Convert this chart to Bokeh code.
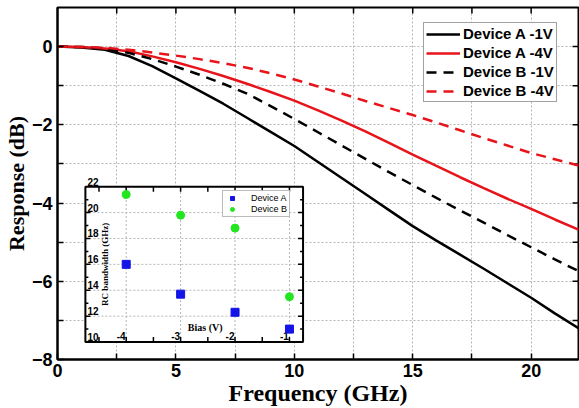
import numpy as np
from bokeh.plotting import figure
from bokeh.models import Range1d, FixedTicker, Legend, LegendItem, ColumnDataSource
from bokeh.core.properties import value
from bokeh.embed import file_html
from bokeh.resources import INLINE

# ---- frequency response (dB) ----
freq = list(range(0, 23))
a_1v = [0, -0.02, -0.08, -0.24, -0.50, -0.81, -1.13, -1.46, -1.82, -2.18, -2.54, -2.95,
        -3.36, -3.77, -4.18, -4.59, -4.96, -5.32, -5.68, -6.05, -6.42, -6.82, -7.20]
a_4v = [0, -0.01, -0.05, -0.12, -0.25, -0.40, -0.57, -0.75, -0.95, -1.16, -1.38, -1.63,
        -1.89, -2.17, -2.46, -2.76, -3.05, -3.34, -3.62, -3.89, -4.15, -4.42, -4.68]
b_1v = [0, -0.01, -0.05, -0.16, -0.32, -0.51, -0.72, -0.95, -1.20, -1.52, -1.85, -2.19,
        -2.53, -2.87, -3.21, -3.54, -3.87, -4.19, -4.50, -4.82, -5.13, -5.44, -5.74]
b_4v = [0, -0.01, -0.03, -0.08, -0.15, -0.23, -0.32, -0.42, -0.54, -0.68, -0.84, -1.02,
        -1.20, -1.39, -1.57, -1.75, -1.94, -2.14, -2.34, -2.53, -2.72, -2.88, -3.04]

series_names = ["Device A -1V", "Device A -4V", "Device B -1V", "Device B -4V"]

# ---- inset: RC bandwidth vs bias ----
bias = [-4, -3, -2, -1]
bw_a = [16.0, 13.7, 12.3, 11.0]
bw_b = [21.4, 19.8, 18.8, 13.5]
inset_names = ["Device A", "Device B"]

x_ticks = [0, 5, 10, 15, 20]
y_ticks = [0, -2, -4, -6, -8]
inset_x_ticks = [-4, -3, -2, -1]
inset_y_ticks = [10, 12, 14, 16, 18, 20, 22]

# ---- layout (pixels) ----
W, H = 579, 408
BL, BR, BT, BB = 55, 1, 7, 48
FW, FH = W - BL - BR, H - BT - BB
X0, X1, Y0, Y1 = 0, 22, -8, 1
ppx = FW / (X1 - X0)
ppy = FH / (Y1 - Y0)
# inset box inside the frame (offsets from frame left / frame top)
IL, IR, IT, IB = 28.0, 246.5, 179.7, 335.5
BX0, BX1 = -4.75, -0.75
BY0, BY1 = 10.0, 22.0
pxb = (IR - IL) / (BX1 - BX0)
pyb = (IB - IT) / (BY1 - BY0)

SANS = "Liberation Sans"
SERIF = "Liberation Serif"

p = figure(width=W, height=H, x_range=Range1d(X0, X1), y_range=Range1d(Y0, Y1),
           output_backend="svg", toolbar_location=None,
           min_border_left=BL, min_border_right=BR, min_border_top=BT,
           min_border_bottom=BB)
p.extra_x_ranges = {"bias": Range1d(BX0 - IL / pxb, BX1 + (FW - IR) / pxb)}
p.extra_y_ranges = {"bw": Range1d(BY0 - (FH - IB) / pyb, BY1 + IT / pyb)}

p.outline_line_color = "black"
p.outline_line_width = 2
p.background_fill_color = "white"
p.border_fill_color = "white"

# grid
p.xgrid.ticker = FixedTicker(ticks=list(np.arange(0, 22.6, 2.5)))
p.ygrid.ticker = FixedTicker(ticks=list(range(-8, 2)))
for g in (p.xgrid, p.ygrid):
    g.grid_line_color = "#b5b5b5"
    g.grid_line_dash = "2 2"
    g.grid_line_width = 1

def style_axis(ax):
    ax.axis_line_color = "black"
    ax.axis_line_width = 2
    ax.major_tick_line_color = "black"
    ax.minor_tick_line_color = "black"
    ax.major_tick_line_width = 1.5
    ax.minor_tick_line_width = 1.5
    ax.major_tick_in = 6
    ax.major_tick_out = 0
    ax.minor_tick_in = 6
    ax.minor_tick_out = 0
    ax.major_label_text_font = SANS
    ax.major_label_text_font_style = "bold"
    ax.major_label_text_font_size = "18px"
    ax.major_label_text_color = "black"
    ax.axis_label_text_font = SERIF
    ax.axis_label_text_font_style = "bold"
    ax.axis_label_text_color = "black"

p.xaxis.ticker = FixedTicker(ticks=x_ticks, minor_ticks=list(np.arange(2.5, 22, 5)))
p.yaxis.ticker = FixedTicker(ticks=y_ticks, minor_ticks=[-1, -3, -5, -7])
style_axis(p.xaxis[0])
style_axis(p.yaxis[0])
p.xaxis.axis_label = "Frequency (GHz)"
p.yaxis.axis_label = "Response (dB)"
p.xaxis.axis_label_text_font_size = "24px"
p.yaxis.axis_label_text_font_size = "22px"
p.xaxis.major_label_standoff = 4
p.yaxis.major_label_standoff = 5
p.xaxis.axis_label_standoff = 0
p.yaxis.axis_label_standoff = 0

# mirrored ticks along the top and right edges of the frame
top_t = list(np.arange(2.5, 21, 2.5))
p.segment(x0=top_t, x1=top_t, y0=[Y1] * len(top_t), y1=[Y1 - 6 / ppy] * len(top_t),
          line_color="black", line_width=1.5)
right_t = list(range(-7, 1))
p.segment(x0=[X1] * len(right_t), x1=[X1 - 6 / ppx] * len(right_t), y0=right_t,
          y1=right_t, line_color="black", line_width=1.5)

# ---- response curves ----
src = ColumnDataSource(dict(f=freq, a1=a_1v, a4=a_4v, b1=b_1v, b4=b_4v))
RED = "#e8141b"
r1 = p.line("f", "a1", source=src, line_color="black", line_width=2.5)
r2 = p.line("f", "a4", source=src, line_color=RED, line_width=2.5)
r3 = p.line("f", "b1", source=src, line_color="black", line_width=2.5, line_dash="10 7")
r4 = p.line("f", "b4", source=src, line_color=RED, line_width=2.5, line_dash="10 7")

leg = Legend(items=[LegendItem(label=n, renderers=[r]) for n, r in
                    zip(series_names, [r1, r2, r3, r4])],
             location=(366, 257))
leg.label_text_font = SANS
leg.label_text_font_style = "bold"
leg.label_text_font_size = "15px"
leg.label_text_color = "black"
leg.glyph_width = 34
leg.glyph_height = 14
leg.label_height = 14
leg.label_standoff = 3
leg.spacing = 2
leg.padding = 2
leg.margin = 0
leg.border_line_color = "#444444"
leg.border_line_width = 1.5
leg.background_fill_alpha = 1
p.add_layout(leg, "center")

# ---- inset ----
kw = dict(x_range_name="bias", y_range_name="bw")
p.quad(left=[BX0], right=[BX1], bottom=[BY0], top=[BY1], fill_color="white",
       line_color=None, **kw)

# inset grid
p.segment(x0=inset_x_ticks, x1=inset_x_ticks, y0=[BY0] * 4, y1=[BY1] * 4,
          line_color="#b5b5b5", line_dash="2 2", line_width=1, **kw)
gy = inset_y_ticks[1:-1]
p.segment(x0=[BX0] * len(gy), x1=[BX1] * len(gy), y0=gy, y1=gy,
          line_color="#b5b5b5", line_dash="2 2", line_width=1, **kw)

# inset ticks
tx = list(np.arange(-4.5, -0.9, 0.5))
tl = 5 / pyb
p.segment(x0=tx, x1=tx, y0=[BY0] * len(tx), y1=[BY0 + tl] * len(tx),
          line_color="black", line_width=1.5, **kw)
p.segment(x0=tx, x1=tx, y0=[BY1] * len(tx), y1=[BY1 - tl] * len(tx),
          line_color="black", line_width=1.5, **kw)
ty = list(range(11, 22))
tlen = [(5 if v % 2 == 0 else 3) / pxb for v in ty]
p.segment(x0=[BX0] * len(ty), x1=[BX0 + t for t in tlen], y0=ty, y1=ty,
          line_color="black", line_width=1.5, **kw)
p.segment(x0=[BX1] * len(ty), x1=[BX1 - t for t in tlen], y0=ty, y1=ty,
          line_color="black", line_width=1.5, **kw)

# inset frame
p.quad(left=[BX0], right=[BX1], bottom=[BY0], top=[BY1], fill_color=None,
       line_color="black", line_width=2, **kw)

# inset tick labels and titles
p.text(x=inset_x_ticks, y=[BY0] * 4, text=[str(v) for v in inset_x_ticks],
       text_font=value(SANS), text_font_style="bold", text_font_size="10px",
       text_align="center", text_baseline="bottom", x_offset=-5, y_offset=-2,
       text_color="black", **kw)
p.text(x=[BX0] * len(inset_y_ticks), y=inset_y_ticks,
       text=[str(v) for v in inset_y_ticks],
       text_font=value(SANS), text_font_style="bold", text_font_size="10px",
       text_align="left", text_baseline="bottom", x_offset=2, y_offset=-1,
       text_color="black", **kw)
p.text(x=[(BX0 + BX1) / 2], y=[BY0], text=["Bias (V)"], text_font=value(SERIF),
       text_font_style="bold", text_font_size="10px", text_align="center",
       text_baseline="bottom", x_offset=11, y_offset=-9, text_color="black", **kw)
p.text(x=[BX0], y=[(BY0 + BY1) / 2], text=["RC bandwidth (GHz)"],
       text_font=value(SERIF), text_font_style="bold", text_font_size="9px",
       text_align="center", text_baseline="middle", angle=np.pi / 2,
       x_offset=20, y_offset=0, text_color="black", **kw)

# inset data
isrc = ColumnDataSource(dict(b=bias, a=bw_a, bb=bw_b))
ra = p.scatter("b", "a", source=isrc, marker="square", size=8, fill_color="#1414e6",
               line_color="#1414e6", **kw)
rb = p.scatter("b", "bb", source=isrc, marker="circle", size=8, fill_color="#22e61e",
               line_color="#22e61e", **kw)

ileg = Legend(items=[LegendItem(label=n, renderers=[r]) for n, r in
                     zip(inset_names, [ra, rb])],
              location=(165, 142))
ileg.label_text_font = SANS
ileg.label_text_font_size = "9px"
ileg.label_text_color = "black"
ileg.glyph_width = 14
ileg.glyph_height = 10
ileg.label_height = 10
ileg.label_standoff = 12
ileg.spacing = 1
ileg.padding = 2
ileg.margin = 0
ileg.border_line_color = "#777777"
ileg.border_line_width = 1
p.add_layout(ileg, "center")

open("out.html", "w").write(file_html(p, INLINE))
